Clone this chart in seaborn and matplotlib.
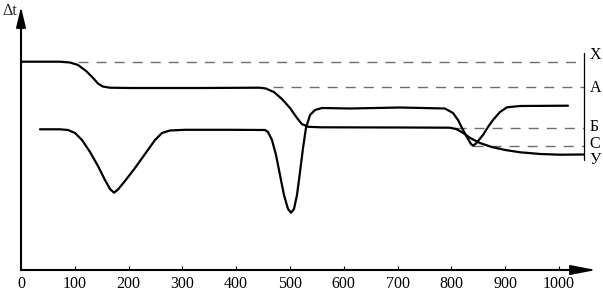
import matplotlib
matplotlib.use("Agg")
import matplotlib.pyplot as plt
import seaborn as sns
import pandas as pd

# ---- data (temperature, relative Δt) ----
t_upper = [0, 72.5, 91, 106, 121, 134, 143, 152, 165, 203, 333, 444, 455, 470, 485,
           500, 513, 522, 534, 556, 704, 797, 809, 822, 835, 853, 875, 900, 928,
           965, 1002, 1046]
dt_upper = [208.3, 208.3, 207.5, 205, 199, 192, 186.5, 183.5, 182.3, 182, 182, 182.3,
            181.5, 178, 171, 162, 152, 146, 143.2, 142.7, 142.5, 142.3, 141, 137,
            132, 127, 123, 120, 117.7, 116, 115.3, 115.5]

t_lower = [35.3, 72.5, 87.4, 100.4, 113.4, 128.3, 143.1, 156.1, 165.4, 172.9, 180.3,
           193.3, 211.9, 230.5, 249.1, 262.1, 276.9, 304.8, 388.5, 453.5, 459.1,
           466.5, 474, 481.4, 488.8, 496.3, 501.9, 507.4, 513, 518.6, 524.2, 529.7,
           537.2, 546.5, 559.5, 611.5, 704.5, 788, 803, 812.3, 821.6, 830.9, 836.4,
           840.1, 845.7, 858.7, 868, 877.3, 890.3, 903.3, 927.5, 1016.7]
dt_lower = [140.7, 140.7, 140, 137, 130, 118, 104, 90, 81, 77.3, 80.5, 89, 102, 116,
            130, 137, 139.5, 140.2, 140.2, 140, 138, 130, 115, 95, 75, 61, 57.3, 61,
            75, 98, 122, 142, 155, 160, 162, 161.5, 162.5, 161.5, 157, 150, 140, 131,
            126, 124.3, 126.5, 135, 143, 150, 158, 162.7, 164, 164.3]

level_names = ["X", "А", "Б", "С", "У"]
level_values = [208.3, 182.7, 142.5, 124.3, 110]
level_starts = [106, 468, 809, 840, None]

x_ticks = [0, 100, 200, 300, 400, 500, 600, 700, 800, 900, 1000]

# ---- figure ----
sns.set_theme(style="white")
plt.rcParams["font.family"] = ["Liberation Serif", "DejaVu Serif"]

fig = plt.figure(figsize=(6.03, 3.02), dpi=100)
px = 0.538  # pixels per degree
ax = fig.add_axes([21 / 603, 32 / 302, 582 / 603, 270 / 302])
ax.set_xlim(0, 582 / px)
ax.set_ylim(0, 270)
ax.patch.set_alpha(0)

df_u = pd.DataFrame({"t": t_upper, "dt": dt_upper})
df_l = pd.DataFrame({"t": t_lower, "dt": dt_lower})
sns.lineplot(data=df_u, x="t", y="dt", ax=ax, color="black", lw=1.6,
             sort=False, estimator=None)
sns.lineplot(data=df_l, x="t", y="dt", ax=ax, color="black", lw=1.6,
             sort=False, estimator=None)

x_end = 1046.5
for name, val, start in zip(level_names, level_values, level_starts):
    if start is not None:
        ax.plot([start, x_end], [val, val], color="#6e6e6e", lw=1.0,
                dashes=(7.2, 5.8), zorder=1)
# vertical bracket line
ax.plot([x_end, x_end], [217, 110], color="black", lw=0.9, clip_on=False)
label_y = [215, 182, 143, 126, 110]
for name, yy in zip(level_names, label_y):
    ax.text(x_end + 10, yy, name, fontsize=11.5, va="center", ha="left",
            color="black", clip_on=False)

# axes
for s in ["top", "right"]:
    ax.spines[s].set_visible(False)
ax.spines["left"].set_linewidth(1.5)
ax.spines["bottom"].set_linewidth(1.5)
ax.spines["left"].set_color("black")
ax.spines["bottom"].set_color("black")
ax.spines["bottom"].set_bounds(0, (580 - 21) / px)
ax.spines["left"].set_bounds(0, 270 - 20)
ax.annotate("", xy=((596 - 21) / px, 0), xytext=((576 - 21) / px, 0),
            arrowprops=dict(arrowstyle="-|>,head_length=1.3,head_width=0.25",
                            color="black", lw=1.2, shrinkA=0, shrinkB=0),
            annotation_clip=False)
ax.annotate("", xy=(0, 270 - 7), xytext=(0, 270 - 24),
            arrowprops=dict(arrowstyle="-|>,head_length=1.05,head_width=0.25",
                            color="black", lw=1.2, shrinkA=0, shrinkB=0),
            annotation_clip=False)

ax.set_xticks(x_ticks)
ax.set_xticklabels([str(v) for v in x_ticks])
ax.set_yticks([])
ax.tick_params(axis="x", direction="in", length=3, width=0.8, pad=4,
               labelsize=11.5, colors="black", bottom=True)
ax.set_xlabel("")
ax.set_ylabel("")
fig.text(10 / 603, 1 - 11 / 302, "Δt", fontsize=11.5, ha="center", va="center")

fig.savefig("out.png", dpi=100)
